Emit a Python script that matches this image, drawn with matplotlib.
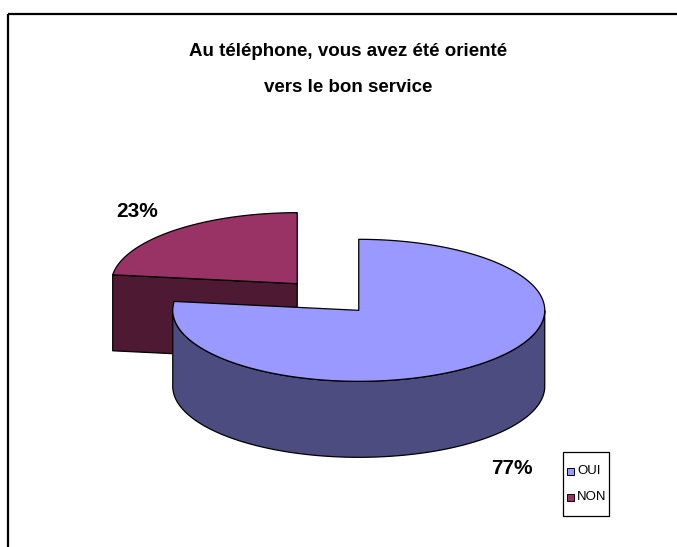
import numpy as np
import matplotlib
matplotlib.use("Agg")
import matplotlib.pyplot as plt
from matplotlib.patches import Polygon, Rectangle

# Survey answers
labels = ["OUI", "NON"]
values = [77, 23]
title_lines = ["Au téléphone, vous avez été orienté", "vers le bon service"]

top_colors = ["#9999FF", "#993366"]
side_colors = ["#4C4C80", "#4D1933"]

FONT = ["Liberation Sans Narrow", "Liberation Sans", "DejaVu Sans"]

W, H = 677, 547
fig = plt.figure(figsize=(W / 100, H / 100), dpi=100)
ax = fig.add_axes([0, 0, 1, 1])
ax.set_xlim(0, W)
ax.set_ylim(H, 0)
ax.axis("off")

# chart frame (only top and left edges fall inside the image)
ax.plot([8, W + 5], [14, 14], color="black", lw=1.6, solid_capstyle="butt")
ax.plot([8, 8], [14, H + 5], color="black", lw=1.6, solid_capstyle="butt")

for i, line in enumerate(title_lines):
    ax.text(348, 51 + i * 36, line, ha="center", va="center",
            fontsize=13.5, fontweight="bold", family=FONT)

# 3-D pie geometry (pixel units)
cx, cy = 328, 297          # pie centre before explosion
a, b = 186, 71             # ellipse semi-axes of the top face
depth = 76                 # thickness of the pie
explode = 0.25 * a         # radial explosion distance

total = float(sum(values))
spans = [v / total * 360.0 for v in values]

# slices go clockwise from 12 o'clock
slices = []
start = 90.0
for lab, span, tc, sc, v in zip(labels, spans, top_colors, side_colors, values):
    end = start - span
    mid = np.radians((start + end) / 2)
    ox = cx + explode * np.cos(mid)
    oy = cy - explode * (b / a) * np.sin(mid)
    slices.append(dict(label=lab, t0=end, t1=start, mid=mid, ox=ox, oy=oy,
                       top=tc, side=sc, value=v))
    start = end


def pt(s, th, dz=0.0):
    return (s["ox"] + a * np.cos(np.radians(th)),
            s["oy"] - b * np.sin(np.radians(th)) + dz)


edge = dict(edgecolor="black", linewidth=0.9, joinstyle="round")

# draw back slices first
order = sorted(slices, key=lambda s: s["oy"])
for s in order:
    z = 2 if s is order[0] else 5
    t0, t1 = s["t0"], s["t1"]
    # radial faces that turn towards the viewer
    for th, sign in ((t0, -1), (t1, 1)):
        nrm = np.radians(th + sign * 90)
        if np.sin(nrm) < -1e-6:
            p = pt(s, th)
            quad = [(s["ox"], s["oy"]), p, (p[0], p[1] + depth),
                    (s["ox"], s["oy"] + depth)]
            ax.add_patch(Polygon(quad, closed=True, facecolor=s["side"], zorder=z, **edge))
    # outer wall, front half only (180..360 degrees)
    rng = np.linspace(t0, t1, 600)
    front = rng[(np.mod(rng, 360) >= 180) & (np.mod(rng, 360) <= 360)]
    if front.size > 1:
        top_pts = [pt(s, th) for th in front]
        bot_pts = [pt(s, th, depth) for th in front[::-1]]
        ax.add_patch(Polygon(top_pts + bot_pts, closed=True,
                             facecolor=s["side"], zorder=z + 1, **edge))
    # top face
    arc = [pt(s, th) for th in np.linspace(t0, t1, 400)]
    ax.add_patch(Polygon([(s["ox"], s["oy"])] + arc, closed=True,
                         facecolor=s["top"], zorder=z + 2, **edge))

# percentage labels outside each slice
for s in slices:
    k = 1.3
    lx = s["ox"] + k * a * np.cos(s["mid"])
    ly = s["oy"] - k * b * np.sin(s["mid"])
    if np.sin(s["mid"]) < 0:
        lx -= 7
        ly += depth + 13
    else:
        ly -= 3
    ax.text(lx, ly, f"{s['value']}%", ha="center", va="center",
            fontsize=15, fontweight="bold", family=FONT, zorder=10)

# legend
ax.add_patch(Rectangle((563, 452), 46, 64, facecolor="white",
                       edgecolor="black", linewidth=0.9, zorder=10))
for i, s in enumerate(slices):
    yy = 471 + i * 26
    ax.add_patch(Rectangle((567, yy - 3.5), 7, 7, facecolor=s["top"],
                           edgecolor="black", linewidth=0.7, zorder=11))
    ax.text(577, yy, s["label"], ha="left", va="center", fontsize=9.5,
            family=FONT, zorder=11)

fig.savefig("out.png", dpi=100)
